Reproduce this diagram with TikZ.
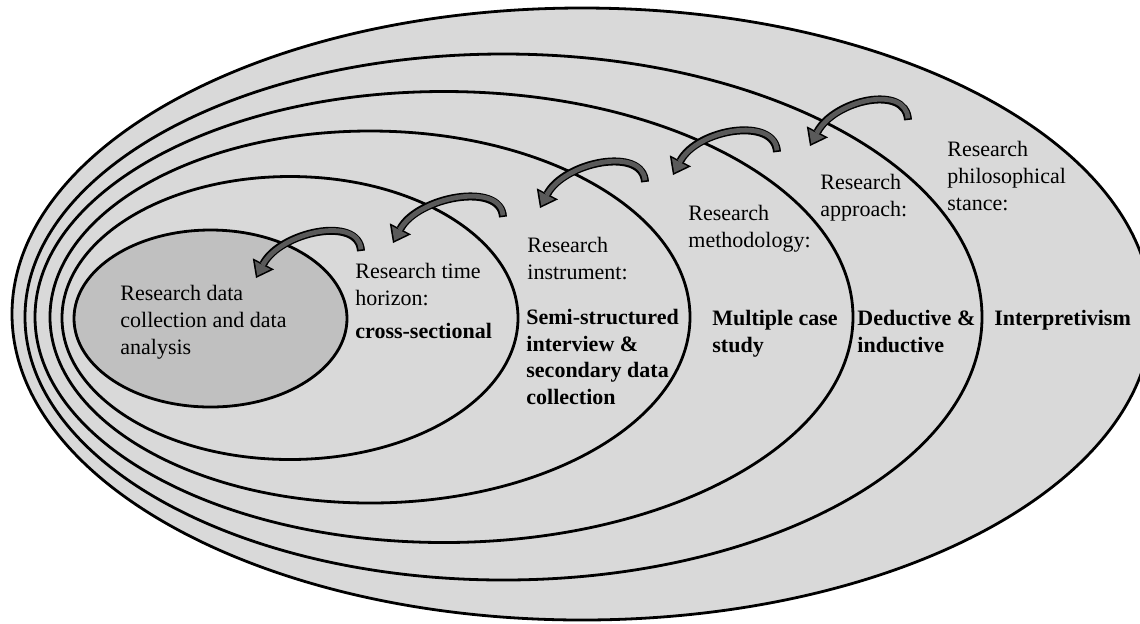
\documentclass[tikz,border=0pt]{standalone}
\usepackage{fontspec}
\setmainfont{Liberation Serif}
\usetikzlibrary{arrows.meta}

\definecolor{ringgray}{RGB}{217,217,217}
\definecolor{coregray}{RGB}{192,192,192}
\definecolor{arrowgray}{RGB}{90,90,90}

\newcommand{\curlarrow}[2]{%
  \draw[curlout] (#1) .. controls +(-2,-36) and +(24,-46) .. (#2);
  \draw[curlin]  (#1) .. controls +(-2,-36) and +(24,-46) .. (#2);
}

\begin{document}
\begin{tikzpicture}[x=0.5pt, y=-0.5pt,
  ring/.style={fill=ringgray, draw=black, line width=1.4pt},
  core/.style={fill=coregray, draw=black, line width=1.4pt},
  lab/.style={anchor=base west, inner sep=0pt, align=left,
    font=\fontsize{11}{13.5}\selectfont},
  val/.style={lab, font=\fontsize{11}{13.2}\selectfont\bfseries},
  curlout/.style={line width=4pt, black,
    -{Triangle[length=8pt,width=12pt,line width=0pt]}},
  curlin/.style={line width=2.4pt, arrowgray, shorten <=0.8pt, shorten >=1.33pt,
    -{Triangle[length=5.9pt,width=8.8pt,line width=0pt]}}]

\useasboundingbox (0,0) rectangle (1140,623);
\fill[white] (0,0) rectangle (1140,623);
\clip (0,0) rectangle (1140,623);

% layers, outside in
\draw[ring] (582,314) ellipse [x radius=570, y radius=306];
\draw[ring] (503.5,317) ellipse [x radius=478.5, y radius=263];
\draw[ring] (444,317) ellipse [x radius=409, y radius=225.5];
\draw[ring] (370,317) ellipse [x radius=320, y radius=186];
\draw[ring] (290,318) ellipse [x radius=228, y radius=141.5];
\draw[core] (210.5,318.5) ellipse [x radius=136.5, y radius=88.5];

% texts sit on the baseline of their last line
\node[lab] (corelab) at (120,354) {Research data\\collection and data\\analysis};

\node[lab] (timelab) at (355,305) {Research time\\horizon:};
\node[val] (timeval) at (355,338) {cross-sectional};

\node[lab] (instlab) at (527,279) {Research\\instrument:};
\node[val] (instval) at (526,404) {Semi-structured\\interview \&\\secondary data\\collection};

\node[lab] (methlab) at (688,247) {Research\\methodology:};
\node[val] (methval) at (712,352) {Multiple case\\study};

\node[lab] (apprlab) at (820,216) {Research\\approach:};
\node[val] (apprval) at (857,352) {Deductive \&\\inductive};

\node[lab] (philab) at (947,210) {Research\\philosophical\\stance:};
\node[val] (phival) at (994,325) {Interpretivism};

% curved arrows, each one ring inwards
\coordinate (tail1) at (361,251);
\coordinate (tip1) at (256,278);
\coordinate (tail2) at (503,217);
\coordinate (tip2) at (393,243);
\coordinate (tail3) at (645,182);
\coordinate (tip3) at (540,208);
\coordinate (tail4) at (777,152);
\coordinate (tip4) at (673,175);
\coordinate (tail5) at (908,120);
\coordinate (tip5) at (810,146);

\curlarrow{tail1}{tip1}
\curlarrow{tail2}{tip2}
\curlarrow{tail3}{tip3}
\curlarrow{tail4}{tip4}
\curlarrow{tail5}{tip5}

\end{tikzpicture}
\end{document}
